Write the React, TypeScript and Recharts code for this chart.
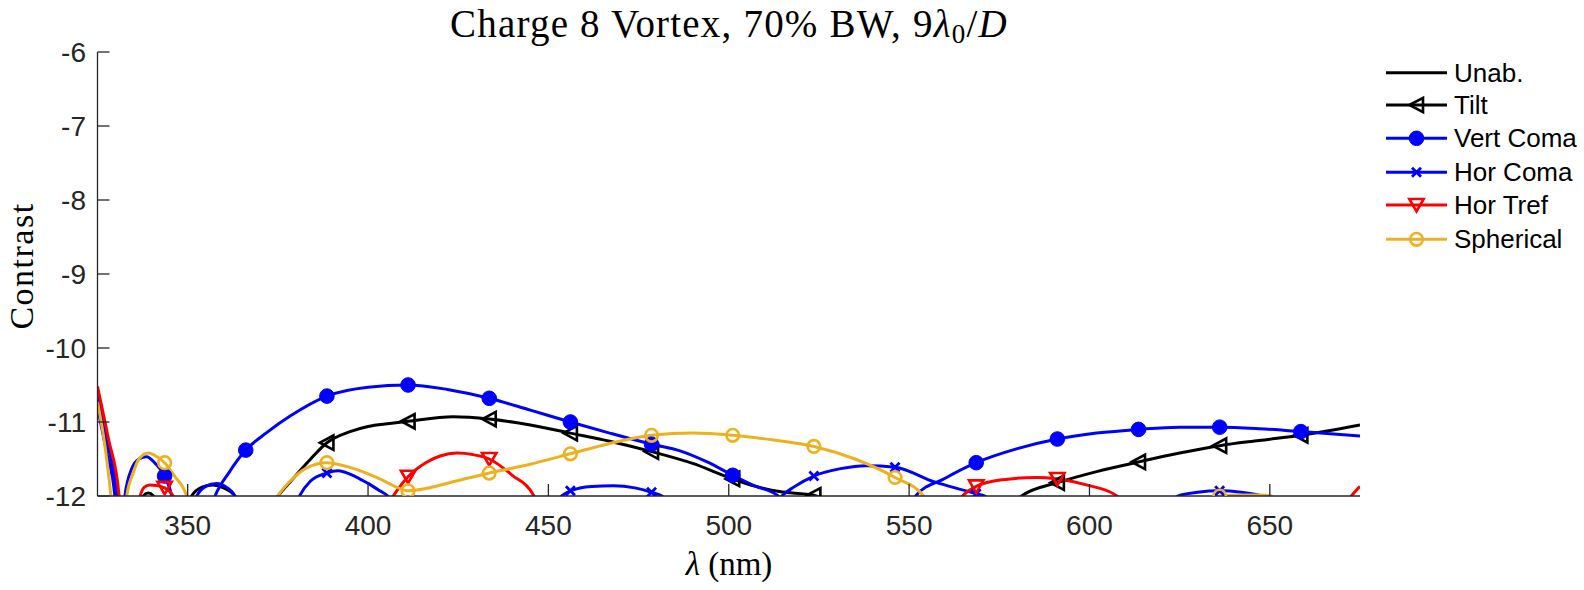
import React from "react";
import { LineChart, Line, XAxis, YAxis } from "recharts";

// wavelength ticks / contrast ticks
const xTicks = [350, 400, 450, 500, 550, 600, 650];
const yTicks = [-12, -11, -10, -9, -8, -7, -6];

// markers sit on every 22.5 nm
const markerX = [343.6, 366.1, 388.6, 411.1, 433.6, 456.1, 478.6, 501.1, 523.6, 546.1, 568.6, 591.1, 613.6, 636.1, 658.6];

// [lambda nm, log10 contrast] (values below -12 are off the plot)
const unab = [
  [325, -10.65], [327.5, -11.2], [330.5, -12.0], [332, -12.9], [335.5, -12.4], [337.7, -12.0],
  [339.1, -11.96], [340.5, -12.0], [343, -12.5], [347, -12.9], [351.1, -12.0], [354, -11.88],
  [357, -11.85], [360, -11.89], [363.1, -12.0], [366, -12.6], [370, -12.9],
];

const tilt = [
  [325, -10.68], [327.5, -11.25], [330.5, -12.0], [332, -13.0], [343.6, -12.9], [355, -12.7],
  [366.1, -12.5], [371, -12.25], [375, -12.0], [378.4, -11.81], [383.9, -11.51], [388.6, -11.28],
  [395, -11.13], [400, -11.06], [406, -11.02], [411.1, -10.99], [423.6, -10.93], [433.6, -10.96],
  [445, -11.04], [456.1, -11.15], [467, -11.26], [478.6, -11.4], [490, -11.56], [501.1, -11.77],
  [507.5, -11.87], [514, -11.94], [523.6, -11.99], [528, -12.1], [535, -12.5], [546.1, -12.8],
  [558, -12.9], [568.6, -12.6], [576, -12.25], [581.2, -12.0], [591.1, -11.82], [602, -11.67],
  [613.6, -11.54], [625, -11.42], [636.1, -11.32], [647, -11.25], [658.6, -11.18], [675, -11.04],
];

const vertComa = [
  [325, -10.62], [327.5, -11.2], [330.3, -12.0], [331.4, -12.8], [332.6, -12.0], [334.5, -11.63],
  [336.5, -11.5], [338.6, -11.47], [341, -11.56], [343.6, -11.73], [345.6, -12.0], [347.5, -12.6],
  [352, -12.9], [355.5, -12.3], [357.6, -12.0], [361.5, -11.68], [366.1, -11.38], [372, -11.14],
  [378.4, -10.92], [388.6, -10.65], [400, -10.53], [411.1, -10.5], [422, -10.56], [433.6, -10.68],
  [445, -10.84], [456.1, -11.0], [467, -11.15], [478.6, -11.3], [486.5, -11.39], [494, -11.54],
  [501.1, -11.72], [507, -11.86], [513.7, -12.0], [518, -12.5], [530, -12.9], [540, -12.8],
  [547, -12.4], [551.8, -12.0], [560, -11.76], [568.6, -11.55], [580, -11.36], [591.1, -11.23],
  [602, -11.15], [613.6, -11.1], [625, -11.07], [636.1, -11.07], [647, -11.09], [658.6, -11.13],
  [675, -11.19],
];

const horComa = [
  [325, -10.8], [327.5, -11.4], [329.8, -12.0], [331, -12.8], [340, -13.0], [348, -12.7],
  [352.5, -12.0], [355, -11.87], [358, -11.83], [361, -11.89], [363.1, -12.0], [366.1, -12.5],
  [373, -12.8], [378.5, -12.3], [381, -12.0], [384, -11.8], [388.6, -11.69], [391.5, -11.66],
  [396.6, -11.74], [400, -11.83], [403.3, -11.93], [405.5, -12.0], [411.1, -12.4], [422, -12.9],
  [433.6, -12.9], [445, -12.6], [451, -12.15], [453.7, -12.0], [456.1, -11.93], [462, -11.87],
  [468, -11.86], [474, -11.89], [478.6, -11.95], [481.5, -12.0], [485, -12.4], [495, -12.9],
  [505, -12.6], [511, -12.25], [514.7, -12.0], [518, -11.88], [523.6, -11.73], [531, -11.63],
  [538.2, -11.59], [546.1, -11.61], [557, -11.81], [566.5, -11.94], [568.6, -11.97], [571, -12.0],
  [575, -12.5], [591.1, -12.9], [605, -12.9], [618, -12.4], [624.6, -12.0], [630, -11.95],
  [636.1, -11.93], [642, -11.95], [647.7, -12.0], [652, -12.5], [660, -12.8],
];

const horTref = [
  [325, -10.52], [328, -11.22], [331, -12.0], [332.2, -12.8], [334.5, -12.6], [336.8, -12.0],
  [338, -11.88], [339.5, -11.85], [341.5, -11.86], [343.6, -11.89], [346, -12.0], [348, -12.5],
  [355, -12.9], [366.1, -12.8], [388.6, -12.7], [400, -12.5], [404.5, -12.2], [407, -12.0],
  [411.1, -11.74], [416, -11.55], [420, -11.46], [424.6, -11.42], [429, -11.44], [433.6, -11.5],
  [440, -11.72], [446, -12.0], [449, -12.5], [456.1, -12.8], [478.6, -12.9], [501.1, -12.9],
  [523.6, -12.8], [546.1, -12.7], [558, -12.4], [562.5, -12.15], [564.8, -12.0], [568.6, -11.87],
  [576, -11.78], [585.3, -11.75], [591.1, -11.77], [600, -11.86], [607.6, -12.0], [611, -12.4],
  [625, -12.9], [645, -12.9], [660, -12.6], [668, -12.3], [672.6, -12.0], [675, -11.87],
];

const spherical = [
  [325, -10.73], [327, -11.3], [328.7, -12.0], [330, -12.8], [331.8, -12.6], [333.1, -12.0],
  [334.8, -11.7], [336.5, -11.5], [339.1, -11.42], [341.5, -11.47], [343.6, -11.55], [346.5, -11.74],
  [349.7, -12.0], [352, -12.7], [360, -13.0], [366.1, -12.8], [371, -12.4], [375, -12.0],
  [378.4, -11.8], [383, -11.62], [388.6, -11.55], [394, -11.6], [399, -11.68], [403.3, -11.77],
  [407, -11.86], [411.1, -11.93], [416, -11.9], [421.8, -11.83], [433.6, -11.69], [445, -11.57],
  [456.1, -11.43], [467, -11.29], [478.6, -11.18], [490, -11.15], [501.1, -11.18], [512, -11.24],
  [523.6, -11.33], [535, -11.5], [546.1, -11.75], [554, -12.0], [558, -12.6], [570, -13.0],
  [590, -13.0], [610, -12.8], [625, -12.4], [630, -12.2], [634, -12.04], [636.1, -12.0],
  [642, -11.985], [647, -11.988], [650.5, -12.0], [653, -12.3], [665, -12.9], [675, -12.9],
];

type Kind = "none" | "triLeft" | "dot" | "cross" | "triDown" | "ring";

const series: { name: string; color: string; kind: Kind; pts: number[][] }[] = [
  { name: "Unab.", color: "#000000", kind: "none", pts: unab },
  { name: "Tilt", color: "#000000", kind: "triLeft", pts: tilt },
  { name: "Vert Coma", color: "#0000ff", kind: "dot", pts: vertComa },
  { name: "Hor Coma", color: "#0000ff", kind: "cross", pts: horComa },
  { name: "Hor Tref", color: "#ff0000", kind: "triDown", pts: horTref },
  { name: "Spherical", color: "#edb120", kind: "ring", pts: spherical },
];

const toRows = (pts: number[][]) => pts.map(([x, y]) => ({ x, y }));

function Marker({ kind, color, cx, cy }: { kind: Kind; color: string; cx: number; cy: number }) {
  const sw = 2.6;
  switch (kind) {
    case "dot":
      return <circle cx={cx} cy={cy} r={7.3} fill={color} stroke={color} strokeWidth={1} />;
    case "ring":
      return <circle cx={cx} cy={cy} r={6.3} fill="none" stroke={color} strokeWidth={sw} />;
    case "triLeft":
      return (
        <polygon
          points={`${cx - 7},${cy} ${cx + 6.5},${cy - 7.2} ${cx + 6.5},${cy + 7.2}`}
          fill="none" stroke={color} strokeWidth={sw}
        />
      );
    case "triDown":
      return (
        <polygon
          points={`${cx - 7.2},${cy - 6} ${cx + 7.2},${cy - 6} ${cx},${cy + 6.5}`}
          fill="none" stroke={color} strokeWidth={sw}
        />
      );
    case "cross":
      return (
        <path
          d={`M${cx - 4.5},${cy - 4.5}L${cx + 4.5},${cy + 4.5}M${cx - 4.5},${cy + 4.5}L${cx + 4.5},${cy - 4.5}`}
          stroke={color} strokeWidth={2.8}
        />
      );
    default:
      return null;
  }
}

const legendRowY = [72.7, 105, 138.3, 172.3, 205, 239.3];

const axisColor = "#262626";
const tickFont = { fill: axisColor, fontSize: 28, fontFamily: "'Liberation Sans', Arial, sans-serif" };
const serif = "'Liberation Serif', 'Times New Roman', serif";
const lineW = 3;

export default function App() {
  return (
    <div style={{ position: "absolute", left: 0, top: 0, width: 1584, height: 590, background: "#fff" }}>
      <LineChart width={1584} height={590} margin={{ top: 52, right: 224, bottom: 34, left: 7.5 }}>
        <XAxis
          type="number"
          dataKey="x"
          domain={[325, 675]}
          ticks={xTicks}
          interval={0}
          allowDataOverflow
          height={60}
          tickSize={-12}
          tickMargin={31}
          axisLine={{ stroke: axisColor, strokeWidth: 1.3 }}
          tickLine={{ stroke: axisColor, strokeWidth: 1.3 }}
          tick={tickFont}
        />
        <YAxis
          type="number"
          domain={[-12, -6]}
          ticks={yTicks}
          interval={0}
          allowDataOverflow
          width={90}
          tickSize={-12}
          tickMargin={23.5}
          axisLine={{ stroke: axisColor, strokeWidth: 1.3 }}
          tickLine={{ stroke: axisColor, strokeWidth: 1.3 }}
          tick={tickFont}
        />
        {series.map((s) => (
          <Line
            key={s.name}
            data={toRows(s.pts)}
            dataKey="y"
            type="monotone"
            stroke={s.color}
            strokeWidth={lineW}
            isAnimationActive={false}
            dot={(p: any) => {
              const on = s.kind !== "none" && markerX.some((m) => Math.abs(m - p.payload.x) < 0.01);
              return (
                <g key={`${s.name}-${p.index}`}>
                  {on ? <Marker kind={s.kind} color={s.color} cx={p.cx} cy={p.cy} /> : null}
                </g>
              );
            }}
            activeDot={false}
          />
        ))}
      </LineChart>
      <svg
        width={1584}
        height={590}
        style={{ position: "absolute", left: 0, top: 0, pointerEvents: "none" }}
      >
        <text x={729} y={37} textAnchor="middle" fontFamily={serif} fontSize={39} letterSpacing={1.2} fill="#000">
          Charge 8 Vortex, 70% BW, 9<tspan fontStyle="italic">λ</tspan>
          <tspan fontSize={27} dy={6}>0</tspan>
          <tspan dy={-6}>/</tspan>
          <tspan fontStyle="italic">D</tspan>
        </text>
        <text transform="translate(33,266) rotate(-90)" textAnchor="middle" fontFamily={serif} fontSize={34} letterSpacing={1.5} fill="#000">
          Contrast
        </text>
        <text x={729} y={575} textAnchor="middle" fontFamily={serif} fontSize={33} fill="#000">
          <tspan fontStyle="italic">λ</tspan> (nm)
        </text>
        {series.map((s, i) => (
          <g key={s.name}>
            <line x1={1386} x2={1447} y1={legendRowY[i]} y2={legendRowY[i]} stroke={s.color} strokeWidth={lineW} />
            <Marker kind={s.kind} color={s.color} cx={1416.5} cy={legendRowY[i]} />
            <text
              x={1454}
              y={legendRowY[i]}
              dy="0.35em"
              fontFamily="'Liberation Sans', Arial, sans-serif"
              fontSize={26}
              fill="#000"
            >
              {s.name}
            </text>
          </g>
        ))}
      </svg>
    </div>
  );
}
